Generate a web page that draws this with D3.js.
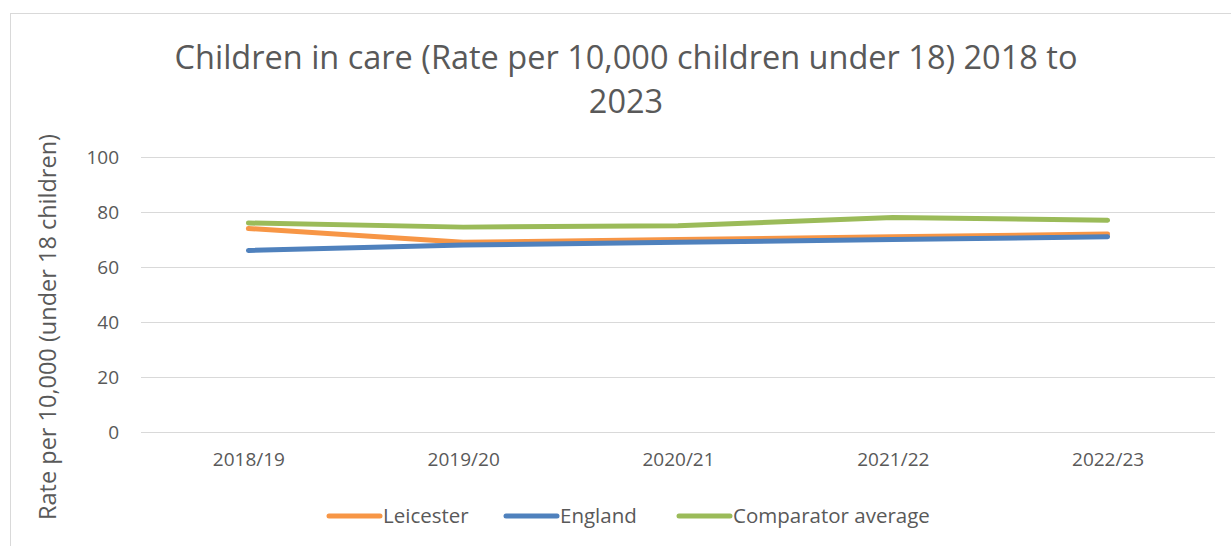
<!DOCTYPE html>
<html>
<head>
<meta charset="utf-8">
<script src="https://cdn.jsdelivr.net/npm/d3@7"></script>
<style>
  body { margin: 0; background: #fff; }
  svg { display: block; font-family: "Open Sans", "Noto Sans", sans-serif; }
</style>
</head>
<body>
<div id="chart"></div>
<script>
let width = 1231;
let height = 546;

// 数据
let years = ["2018/19", "2019/20", "2020/21", "2021/22", "2022/23"];
let leicester = [74, 69, 70, 71, 72];
let england = [66, 68, 69, 70, 71];
let comparator = [76, 74.5, 75, 78, 77];
let yTicks = [0, 20, 40, 60, 80, 100];

let seriesList = [
    { name: "Leicester", values: leicester, color: "#f79646" },
    { name: "England", values: england, color: "#4f81bd" },
    { name: "Comparator average", values: comparator, color: "#9bbb59" }
];

let textColor = "#595959";
let margin = { top: 157, right: 16, bottom: 114, left: 141 };
let plotWidth = width - margin.left - margin.right;
let plotHeight = height - margin.top - margin.bottom;

let svg = d3.select("#chart").append("svg")
    .attr("width", width)
    .attr("height", height);

// 外框
svg.append("rect")
    .attr("x", 10.5)
    .attr("y", 13.5)
    .attr("width", width + 10)
    .attr("height", height)
    .attr("fill", "none")
    .attr("stroke", "#d9d9d9");

// 标题
let title = svg.append("text")
    .attr("text-anchor", "middle")
    .attr("fill", textColor)
    .style("font-size", "32.5px");
title.append("tspan").attr("x", 626).attr("y", 69)
    .text("Children in care (Rate per 10,000 children under 18) 2018 to");
title.append("tspan").attr("x", 626).attr("y", 113).text("2023");

let g = svg.append("g")
    .attr("transform", "translate(" + margin.left + "," + margin.top + ")");

let xScale = d3.scalePoint()
    .domain(years)
    .range([0, plotWidth])
    .padding(0.5);

let yScale = d3.scaleLinear()
    .domain([0, 100])
    .range([plotHeight, 0]);

// 网格线
g.append("g")
    .call(d3.axisLeft(yScale).tickValues(yTicks).tickSize(-plotWidth).tickPadding(22))
    .call(ax => ax.select(".domain").remove())
    .call(ax => ax.selectAll("line").attr("stroke", "#d9d9d9").attr("stroke-width", 1))
    .call(ax => ax.selectAll("text").attr("fill", textColor).style("font-size", "19px")
        .attr("font-family", "\"Open Sans\", sans-serif"));

g.append("g")
    .attr("transform", "translate(0," + plotHeight + ")")
    .call(d3.axisBottom(xScale).tickSize(0).tickPadding(21))
    .call(ax => ax.select(".domain").remove())
    .call(ax => ax.selectAll("text").attr("fill", textColor).style("font-size", "19px")
        .attr("font-family", "\"Open Sans\", sans-serif"));

// Y轴标题
svg.append("text")
    .attr("transform", "rotate(-90)")
    .attr("x", -327)
    .attr("y", 56)
    .attr("text-anchor", "middle")
    .attr("fill", textColor)
    .style("font-size", "23.5px")
    .text("Rate per 10,000 (under 18 children)");

// 折线
let line = d3.line()
    .x((d, i) => xScale(years[i]))
    .y(d => yScale(d));

seriesList.forEach(s => {
    g.append("path")
        .datum(s.values)
        .attr("fill", "none")
        .attr("stroke", s.color)
        .attr("stroke-width", 5)
        .attr("stroke-linecap", "round")
        .attr("stroke-linejoin", "round")
        .attr("d", line);
});

// 图例
let legendX = [328, 505, 678];
let legend = svg.selectAll(".legend")
    .data(seriesList)
    .enter().append("g")
    .attr("class", "legend")
    .attr("transform", (d, i) => "translate(" + legendX[i] + ",516)");

legend.append("line")
    .attr("x1", 1).attr("x2", 52)
    .attr("stroke", d => d.color)
    .attr("stroke-width", 5)
    .attr("stroke-linecap", "round");

legend.append("text")
    .attr("x", 55)
    .attr("dy", "0.35em")
    .attr("fill", textColor)
    .style("font-size", "20.5px")
    .text(d => d.name);
</script>
</body>
</html>
